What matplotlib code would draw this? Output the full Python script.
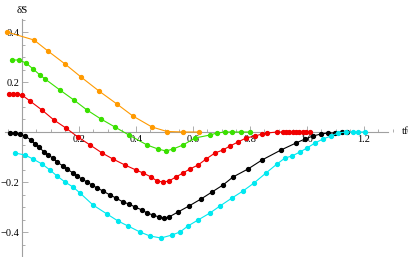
import matplotlib.pyplot as plt
from matplotlib.ticker import MultipleLocator, FixedLocator

# values
orange_x = [-0.053, 0.042, 0.091, 0.151, 0.207, 0.270, 0.333, 0.389, 0.456, 0.509, 0.565, 0.620]
orange_y = [0.400, 0.368, 0.324, 0.272, 0.220, 0.164, 0.112, 0.064, 0.020, 0.002, 0.0, 0.0]

green_x = [-0.035, -0.011, 0.014, 0.039, 0.063, 0.081, 0.133, 0.182, 0.228, 0.277, 0.326, 0.375,
           0.439, 0.477, 0.505, 0.530, 0.565, 0.607, 0.660, 0.684, 0.712, 0.737, 0.768, 0.800]
green_y = [0.288, 0.288, 0.276, 0.252, 0.228, 0.212, 0.168, 0.128, 0.088, 0.052, 0.020, -0.012,
           -0.052, -0.068, -0.076, -0.068, -0.052, -0.024, -0.012, -0.004, 0.0, 0.0, 0.0, 0.0]

red_x = [-0.046, -0.032, -0.018, 0.0, 0.028, 0.070, 0.112, 0.154, 0.196, 0.239, 0.281, 0.319, 0.361,
         0.400, 0.425, 0.453, 0.474, 0.495, 0.516, 0.540, 0.565, 0.589, 0.618, 0.646, 0.677, 0.705,
         0.730, 0.758, 0.786, 0.818, 0.842, 0.860, 0.895, 0.916, 0.926, 0.937, 0.951, 0.961, 0.972,
         0.986, 0.996, 1.011]
red_y = [0.152, 0.152, 0.152, 0.148, 0.124, 0.088, 0.048, 0.016, -0.020, -0.052, -0.084, -0.108, -0.132,
         -0.152, -0.164, -0.180, -0.196, -0.200, -0.196, -0.180, -0.164, -0.148, -0.132, -0.108, -0.084,
         -0.072, -0.056, -0.040, -0.024, -0.016, -0.008, -0.004, 0.0, 0.0, 0.0, 0.0, 0.0, 0.0, 0.0,
         0.0, 0.0, 0.0]

black_px = [10, 15, 20, 25, 31, 35, 39, 44, 48, 53, 57, 63, 67, 73, 77, 82, 87, 92, 97, 103, 110, 116,
            123, 129, 135, 142, 147, 153, 159, 164, 169, 178, 189, 201, 212, 223, 233, 248, 262, 281,
            296, 305, 313, 321, 328, 335, 342, 347]
black_py = [133, 133, 134, 136, 140, 144, 147, 152, 155, 158, 162, 166, 169, 173, 176, 179, 182, 185,
            188, 191, 195, 198, 202, 204, 207, 210, 213, 215, 217, 218, 217, 212, 206, 199, 192, 185,
            177, 169, 160, 150, 143, 139, 136, 134, 133, 133, 132, 132]

cyan_px = [15, 25, 33, 42, 50, 57, 65, 73, 80, 93, 107, 118, 128, 140, 150, 161, 172, 180, 188, 198,
           210, 220, 232, 243, 254, 266, 277, 285, 292, 300, 307, 315, 323, 331, 338, 346, 353, 358, 365]
cyan_py = [153, 155, 159, 164, 170, 176, 182, 187, 193, 205, 214, 221, 226, 232, 236, 238, 235, 232,
           226, 220, 213, 206, 198, 191, 183, 173, 164, 158, 156, 152, 148, 143, 139, 136, 133, 132,
           132, 132, 132]

# pixel readings -> data units (x0 at px 22, y0 at px 132)
black_x = [(p - 22) / 285 for p in black_px]
black_y = [(132 - p) / 250 for p in black_py]
cyan_x = [(p - 22) / 285 for p in cyan_px]
cyan_y = [(132 - p) / 250 for p in cyan_py]

series = [
    (orange_x, orange_y, "#FF9A00"),
    (green_x, green_y, "#3AE000"),
    (red_x, red_y, "#F00000"),
    (black_x, black_y, "#000000"),
    (cyan_x, cyan_y, "#00E8F0"),
]

fig = plt.figure(figsize=(4.09, 2.57), dpi=100)
ax = fig.add_axes([0, 0, 1, 1])
ax.set_facecolor("none")

for xs, ys, c in series:
    ax.plot(xs, ys, color=c, lw=0.8, marker="o", ms=2.8, mec=c, mfc=c, zorder=3)

ax.set_xlim(-22 / 285, 387 / 285)
ax.set_ylim(-125 / 250, 132 / 250)

for s in ["top", "right"]:
    ax.spines[s].set_visible(False)
ax.spines["left"].set_position("zero")
ax.spines["bottom"].set_position("zero")
ax.spines["left"].set_bounds(-0.5, 0.452)
ax.spines["bottom"].set_bounds(-0.06, 1.284)
axis_gray = "#A0A0A0"
for s in ["left", "bottom"]:
    ax.spines[s].set_color(axis_gray)
    ax.spines[s].set_linewidth(0.8)
    ax.spines[s].set_zorder(1)

ax.xaxis.set_major_locator(FixedLocator([0.2, 0.4, 0.6, 0.8, 1.0, 1.2]))
ax.xaxis.set_minor_locator(MultipleLocator(0.05))
ax.yaxis.set_major_locator(FixedLocator([-0.4, -0.2, 0.2, 0.4]))
ax.yaxis.set_minor_locator(MultipleLocator(0.05))
ax.tick_params(which="both", direction="in", color=axis_gray, width=0.6,
               labelsize=7.5, labelfontfamily="Liberation Serif", pad=2)
ax.tick_params(which="major", length=4)
ax.tick_params(which="minor", length=2)
ax.set_xticklabels(["0.2", "0.4", "0.6", "0.8", "1.0", "1.2"])
ax.set_yticklabels(["\u22120.4", "\u22120.2", "0.2", "0.4"])

ax.text(0.0, 0.485, "\u03b4S", ha="center", va="center", fontsize=8, family="Liberation Serif")
ax.text(1.345, 0.0, "tf", ha="center", va="center", fontsize=8, family="Liberation Serif")

fig.savefig("out.png", dpi=100)
